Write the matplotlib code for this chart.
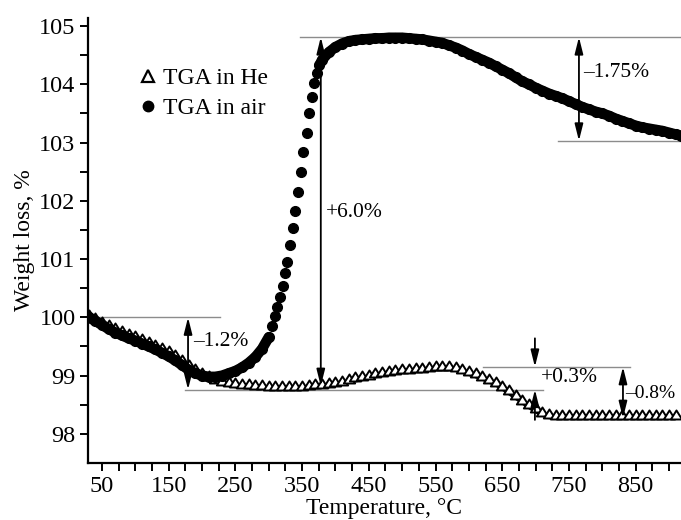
import numpy as np
import matplotlib
matplotlib.use("Agg")
from matplotlib import pyplot as plt
from matplotlib.path import Path
from matplotlib.lines import Line2D

plt.rcParams['font.family'] = ['Liberation Serif', 'DejaVu Serif']

# TGA in air (dots)
air_t = [30, 40, 50, 60, 70, 80, 90, 100, 110, 120, 130, 140, 150, 160, 170, 180, 190,
         200, 210, 220, 230, 240, 250, 260, 270, 280, 290, 300,
         305, 309, 313, 317, 321, 325, 328, 332, 336, 340, 344, 348, 352, 357, 361, 365,
         368, 372, 376, 380,
         390, 400, 410, 420, 430, 440, 450, 460, 470, 480, 490, 500, 510, 520, 530, 540,
         550, 560, 570, 580, 590, 600, 610, 620, 630, 640, 650, 660, 670, 680, 690, 700,
         710, 720, 730, 740, 750, 760, 770, 780, 790, 800, 810, 820, 830, 840, 850, 860,
         870, 880, 890, 900, 910, 918]
air_w = [100.00, 99.94, 99.87, 99.80, 99.74, 99.69, 99.64, 99.60, 99.55, 99.50, 99.45,
         99.39, 99.33, 99.26, 99.18, 99.10, 99.04, 99.00, 98.98, 98.98, 99.00, 99.04,
         99.08, 99.14, 99.22, 99.32, 99.46, 99.66,
         99.86, 100.02, 100.18, 100.35, 100.54, 100.76, 100.95, 101.24, 101.53, 101.82,
         102.15, 102.49, 102.83, 103.17, 103.50, 103.78, 104.03, 104.20, 104.33, 104.42,
         104.55, 104.64, 104.70, 104.74, 104.76, 104.77, 104.78, 104.79, 104.79, 104.80,
         104.80, 104.80, 104.79, 104.78, 104.77, 104.75, 104.73, 104.71, 104.67, 104.63,
         104.58, 104.52, 104.47, 104.42, 104.37, 104.31, 104.25, 104.19, 104.12, 104.05,
         104.00, 103.94, 103.89, 103.84, 103.80, 103.76, 103.71, 103.66, 103.61, 103.57,
         103.53, 103.50, 103.46, 103.41, 103.37, 103.33, 103.29, 103.26, 103.24, 103.22,
         103.20, 103.17, 103.14, 103.12]

# TGA in He (triangles)
he_t = list(range(30, 920, 10))
he_w = [99.98, 99.92, 99.86, 99.80, 99.75, 99.70, 99.65, 99.61, 99.56, 99.51, 99.46,
        99.41, 99.35, 99.28, 99.20, 99.12, 99.04, 98.97, 98.92, 98.88, 98.84, 98.82,
        98.80, 98.79, 98.78, 98.77, 98.77, 98.76, 98.76, 98.76, 98.76, 98.76, 98.76,
        98.77, 98.78, 98.79, 98.80, 98.82, 98.84, 98.87, 98.90, 98.92, 98.95, 98.97,
        98.99, 99.01, 99.03, 99.04, 99.05, 99.06, 99.07, 99.08, 99.09, 99.09, 99.09,
        99.08, 99.05, 99.01, 98.97, 98.93, 98.88, 98.83, 98.76, 98.68, 98.60, 98.52,
        98.44, 98.37, 98.31, 98.27, 98.26, 98.26, 98.26, 98.26, 98.26, 98.26, 98.26,
        98.26, 98.26, 98.26, 98.26, 98.26, 98.26, 98.26, 98.26, 98.26, 98.26, 98.26,
        98.26]

# guide lines: (y, x0, x1)
guides = [(100.0, 29, 227), (98.76, 175, 711), (104.81, 347, 918),
          (103.03, 734, 918), (99.15, 621, 842)]

fig = plt.figure(figsize=(6.81, 5.2), dpi=100)
ax = fig.add_axes([0.1292, 0.1096, 0.8708, 0.856])

for y, x0, x1 in guides:
    ax.plot([x0, x1], [y, y], color='#8c8c8c', lw=1.0, zorder=1)

# triangle whose base sits on the data point
tri = Path([(-1.0, 0.0), (1.0, 0.0), (0.0, 1.6), (-1.0, 0.0)],
           [Path.MOVETO, Path.LINETO, Path.LINETO, Path.CLOSEPOLY])
ax.plot(he_t, he_w, color='black', lw=1.5, marker=tri, ms=13, mfc='white',
        mec='black', mew=1.4, zorder=3)

at = np.array(air_t, dtype=float)
aw = np.array(air_w, dtype=float)
band = np.where((at > 302) & (at < 376), np.nan, aw)
ax.plot(at, band, color='black', lw=7.5, solid_capstyle='round', zorder=4)
ax.plot(at, aw, 'o', color='black', ms=7, zorder=4)

arw = dict(arrowstyle='<|-|>,head_length=1.0,head_width=0.25', color='black', lw=1.3,
           shrinkA=0, shrinkB=0)
one = dict(arrowstyle='-|>,head_length=1.0,head_width=0.25', color='black', lw=1.3,
           shrinkA=0, shrinkB=0)
ax.annotate('', xy=(179, 98.76), xytext=(179, 100.0), arrowprops=arw, zorder=5)
ax.annotate('', xy=(378, 98.82), xytext=(378, 104.81), arrowprops=arw, zorder=5)
ax.annotate('', xy=(765, 103.03), xytext=(765, 104.81), arrowprops=arw, zorder=5)
ax.annotate('', xy=(699, 99.15), xytext=(699, 99.64), arrowprops=one, zorder=5)
ax.annotate('', xy=(699, 98.76), xytext=(699, 98.24), arrowprops=one, zorder=5)
ax.annotate('', xy=(831, 98.27), xytext=(831, 99.15), arrowprops=arw, zorder=5)

fs = 15.5
ax.text(186, 99.58, '\u20131.2%', fontsize=fs, va='center', ha='left')
ax.text(386, 101.8, '+6.0%', fontsize=fs, va='center', ha='left')
ax.text(772, 104.21, '\u20131.75%', fontsize=fs, va='center', ha='left')
ax.text(708, 98.96, '+0.3%', fontsize=fs, va='center', ha='left')
ax.text(835, 98.70, '\u20130.8%', fontsize=14, va='center', ha='left')

ax.set_xlim(29, 918)
ax.set_ylim(97.5, 105.14)
xt = np.arange(50, 901, 25)
ax.set_xticks(xt)
ax.set_xticklabels([str(v) if (v - 50) % 100 == 0 else '' for v in xt])
yt = np.arange(98, 105.01, 0.5)
ax.set_yticks(yt)
ax.set_yticklabels([str(int(v)) if v == int(v) else '' for v in yt])
ax.tick_params(direction='out', length=6, width=1.4, labelsize=17.5, pad=3)
for s in ['top', 'right']:
    ax.spines[s].set_visible(False)
for s in ['left', 'bottom']:
    ax.spines[s].set_linewidth(1.6)

ax.set_xlabel('Temperature, \u00b0C', fontsize=17, labelpad=1)
ax.set_ylabel('Weight loss, %', fontsize=17, labelpad=3)

h1 = Line2D([], [], ls='none', marker='^', ms=9, mfc='white', mec='black', mew=1.6)
h2 = Line2D([], [], ls='none', marker='o', ms=7.5, color='black')
ax.legend([h1, h2], ['TGA in He', 'TGA in air'], loc='upper left',
          bbox_to_anchor=(0.065, 0.915), frameon=False, fontsize=17,
          handlelength=0.8, handletextpad=0.25, borderpad=0, labelspacing=0.35)

fig.savefig('out.png', dpi=100)
